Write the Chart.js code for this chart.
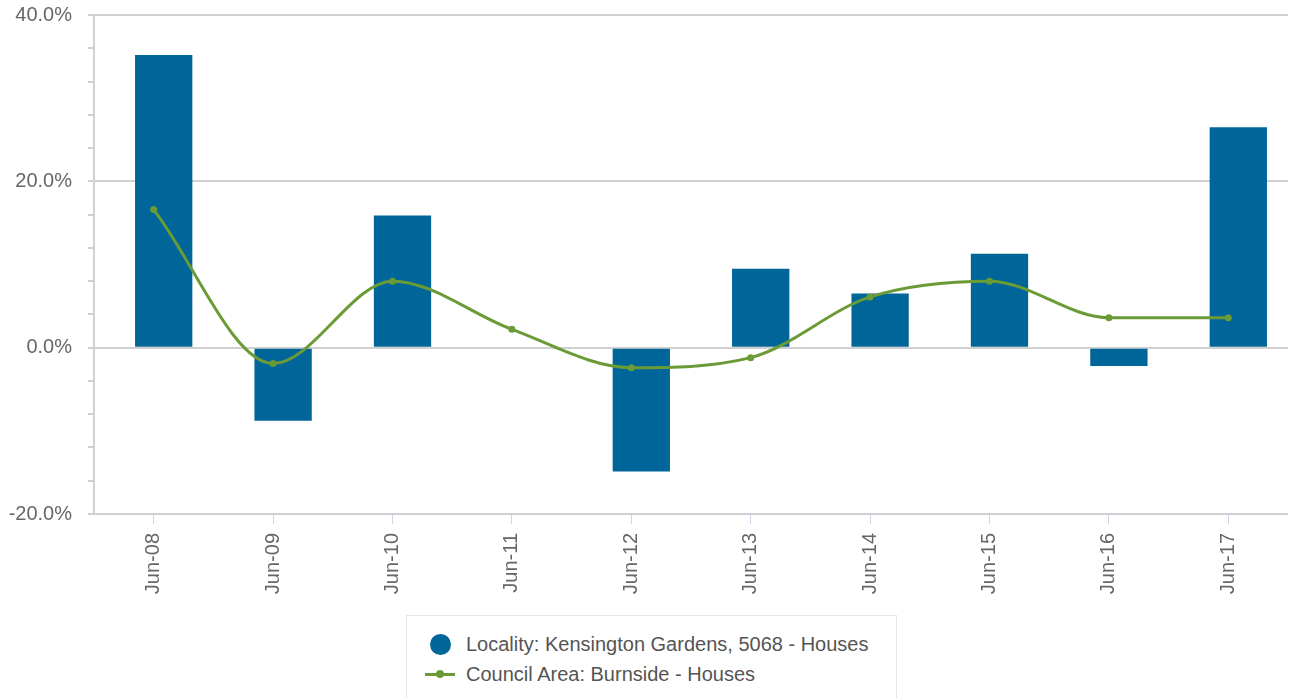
<!DOCTYPE html>
<html>
<head>
<meta charset="utf-8">
<script src="https://cdn.jsdelivr.net/npm/chart.js@4"></script>
<style>
  body { margin: 0; background: #fff; font-family: "Liberation Sans", Arial, sans-serif; }
  #wrap { position: relative; width: 1296px; height: 698px; overflow: hidden; }
  #chartBox { position: absolute; left: 0; top: 0; width: 1296px; height: 612px; }
  #legend {
    position: absolute; left: 406px; top: 615px; width: 491px; height: 100px;
    box-sizing: border-box; border: 1px solid #e6e6e6; padding-top: 13px;
    color: #555; font-size: 20px;
  }
  .item { display: flex; align-items: center; height: 30px; padding-left: 18px; }
  .mark { position: relative; width: 30px; height: 30px; margin-right: 11px; }
  .dot { position: absolute; left: 5px; top: 5px; width: 21px; height: 21px; border-radius: 50%; }
  .ln { position: absolute; left: 0; top: 14px; width: 30px; height: 3px; }
  .ln::after { content: ''; position: absolute; left: 11px; top: -3px; width: 8px; height: 8px; border-radius: 50%; background: inherit; }
</style>
</head>
<body>
<div id="wrap">
  <div id="chartBox"><canvas id="growthChart"></canvas></div>
  <div id="legend"></div>
</div>
<script>
const labels = ['Jun-08', 'Jun-09', 'Jun-10', 'Jun-11', 'Jun-12', 'Jun-13', 'Jun-14', 'Jun-15', 'Jun-16', 'Jun-17'];
const localityValues = [35.2, -8.8, 15.9, null, -14.9, 9.5, 6.5, 11.3, -2.2, 26.5];
const councilValues = [16.6, -1.9, 8.0, 2.2, -2.4, -1.2, 6.1, 8.0, 3.6, 3.6];
const yTicks = [-20, 0, 20, 40];

const localityName = 'Locality: Kensington Gardens, 5068 - Houses';
const councilName = 'Council Area: Burnside - Houses';
const barColor = '#006699';
const lineColor = '#6b9b37';
const fontFamily = '"Liberation Sans", Arial, sans-serif';

document.addEventListener('DOMContentLoaded', function() {
    // highcharts-style columns sit a little right of the category tick
    const barShift = {
        id: 'barShift',
        afterDatasetsUpdate(chart) {
            chart.getDatasetMeta(0).data.forEach(bar => { bar.x += 10; });
        }
    };

    const ctx = document.getElementById('growthChart').getContext('2d');
    const chart = new Chart(ctx, {
        type: 'bar',
        data: {
            labels: labels,
            datasets: [{
                type: 'bar',
                label: localityName,
                data: localityValues,
                backgroundColor: barColor,
                borderWidth: 0,
                categoryPercentage: 1,
                barPercentage: 0.48,
                order: 1
            }, {
                type: 'line',
                label: councilName,
                data: councilValues,
                borderColor: lineColor,
                backgroundColor: lineColor,
                borderWidth: 3,
                pointRadius: 3.5,
                pointBorderWidth: 0,
                cubicInterpolationMode: 'monotone',
                fill: false,
                order: 0
            }]
        },
        options: {
            responsive: true,
            maintainAspectRatio: false,
            animation: false,
            layout: { padding: { top: 15, right: 8, left: 0, bottom: 0 } },
            scales: {
                x: {
                    offset: true,
                    grid: {
                        offset: false,
                        drawOnChartArea: false,
                        tickLength: 10,
                        tickColor: '#ccd6eb',
                        tickWidth: 1
                    },
                    border: { display: false },
                    ticks: {
                        color: '#666',
                        font: { size: 20, family: fontFamily },
                        minRotation: 90,
                        maxRotation: 90,
                        padding: 9,
                        autoSkip: false
                    },
                    afterFit: function(axis) {
                        axis.height = 98;
                        axis.paddingLeft = 0;
                        axis.paddingRight = 0;
                    }
                },
                y: {
                    min: -20,
                    max: 40,
                    grid: {
                        color: function(c) {
                            return c.tick && yTicks.includes(c.tick.value) ? '#d0d0d0' : 'rgba(0,0,0,0)';
                        },
                        lineWidth: 2,
                        tickLength: 6,
                        tickColor: '#d0d0d0',
                        tickWidth: 2
                    },
                    border: { display: true, color: '#d0d0d0', width: 2 },
                    ticks: {
                        stepSize: 4,
                        autoSkip: false,
                        padding: 16,
                        color: '#666',
                        font: { size: 20, family: fontFamily },
                        callback: function(value) {
                            return yTicks.includes(value) ? value.toFixed(1) + '%' : '';
                        }
                    },
                    afterFit: function(axis) {
                        axis.width = 94;
                        axis.paddingTop = 0;
                        axis.paddingBottom = 0;
                    }
                }
            },
            plugins: {
                legend: { display: false },
                tooltip: { enabled: false }
            }
        },
        plugins: [barShift]
    });

    const legend = document.getElementById('legend');
    chart.data.datasets.forEach(function(ds) {
        const item = document.createElement('div');
        item.className = 'item';
        const mark = document.createElement('span');
        mark.className = 'mark';
        const sym = document.createElement('span');
        sym.className = ds.type === 'line' ? 'ln' : 'dot';
        sym.style.background = ds.type === 'line' ? ds.borderColor : ds.backgroundColor;
        mark.appendChild(sym);
        const text = document.createElement('span');
        text.textContent = ds.label;
        item.appendChild(mark);
        item.appendChild(text);
        legend.appendChild(item);
    });
});
</script>
</body>
</html>
